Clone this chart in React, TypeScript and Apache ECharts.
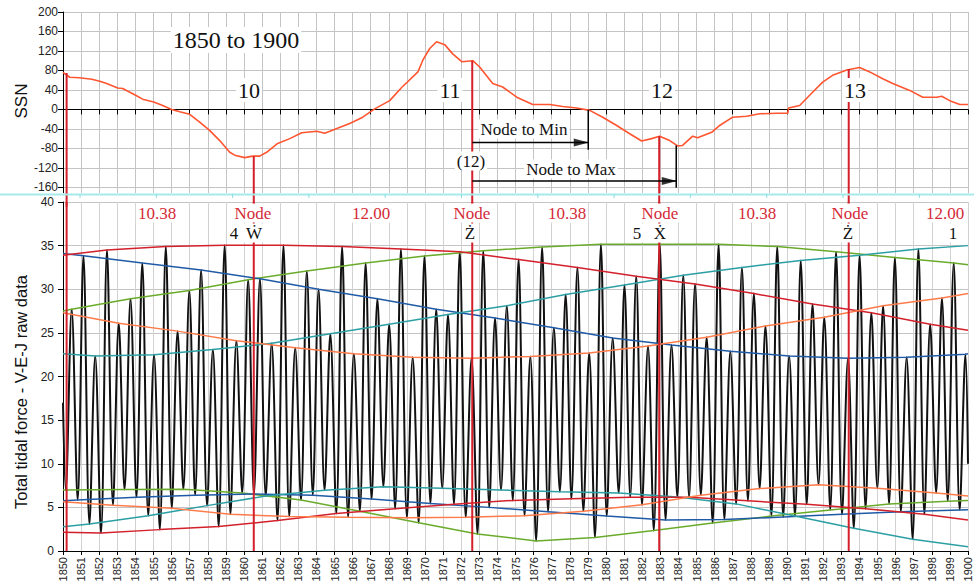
import React, { useEffect, useRef } from "react";
import * as echarts from "echarts";

// ---------- Top panel: SSN (detrended) ----------
const ssn: [number, number][] = [
  [1850.0, 76], [1850.37, 66], [1850.92, 65], [1851.59, 62], [1852.03, 58], [1852.41, 53],
  [1853.02, 44], [1853.3, 43], [1854.01, 29], [1854.4, 21], [1855.01, 15], [1855.51, 8],
  [1856.0, 0], [1856.45, -5], [1857.0, -10], [1857.55, -26], [1858.1, -43], [1858.66, -64],
  [1859.21, -88], [1859.49, -94], [1860.04, -99], [1860.48, -96], [1860.87, -96], [1861.25, -88],
  [1861.86, -70], [1862.53, -60], [1863.19, -48], [1864.02, -45], [1864.46, -49], [1864.74, -45],
  [1865.84, -29], [1866.56, -16], [1867.22, 1], [1868.05, 18], [1868.71, 45], [1869.61, 77],
  [1869.88, 101], [1870.26, 125], [1870.64, 139], [1871.09, 133], [1871.53, 114], [1872.03, 98],
  [1872.64, 100], [1873.02, 87], [1873.74, 53], [1874.29, 46], [1875.07, 25], [1875.95, 10],
  [1876.89, 10], [1877.61, 6], [1878.38, 3], [1879.1, -2], [1879.82, -16], [1880.59, -33],
  [1881.31, -50], [1881.97, -65], [1882.52, -60], [1882.96, -55], [1883.52, -64], [1883.96, -75],
  [1884.23, -74], [1884.79, -55], [1885.06, -58], [1885.84, -47], [1886.28, -33], [1887.0, -16],
  [1887.77, -14], [1888.49, -9], [1889.43, -8], [1890.04, -8], [1890.09, 3], [1890.7, 8],
  [1891.25, 29], [1891.97, 56], [1892.52, 70], [1893.3, 81], [1894.01, 86], [1894.57, 77],
  [1895.29, 63], [1895.84, 53], [1896.78, 39], [1897.5, 25], [1898.27, 25], [1898.55, 27],
  [1898.99, 18], [1899.55, 10], [1900.0, 10],
];

// Lunar node years and the SSN value where each node line starts
const nodeYears = [1850.2, 1860.54, 1872.61, 1882.94, 1893.41];
const nodeSsn = [75, -96, 100, -55, 83];

// Annotation arrows (year, SSN level)
const toMin = { from: 1872.61, to: 1879.02, level: -68, barTop: -1, barBottom: -83 };
const toMax = { from: 1872.61, to: 1883.88, level: -147, barTop: -74, barBottom: -161 };

// ---------- Lower panel: tidal force peaks (five families) ----------
const greenTop: [number, number][] = [
  [1850.48, 27.7], [1853.73, 28.9], [1856.98, 29.85], [1860.23, 31.1], [1863.47, 32.1], [1866.72, 33.0],
  [1869.97, 33.8], [1873.22, 34.4], [1876.47, 34.85], [1879.72, 35.15], [1882.97, 35.15], [1886.22, 35.15],
  [1889.46, 34.9], [1892.71, 34.3], [1895.96, 33.65], [1899.21, 33.0],
];
const blueTop: [number, number][] = [
  [1851.13, 33.85], [1854.38, 33.0], [1857.63, 32.2], [1860.88, 31.2], [1864.12, 30.0], [1867.37, 28.9],
  [1870.62, 27.7], [1873.87, 26.7], [1877.12, 25.6], [1880.37, 24.4], [1883.62, 23.6], [1886.87, 22.9],
  [1890.12, 22.35], [1893.37, 22.1], [1896.61, 22.2], [1899.86, 22.55],
];
const tealTop: [number, number][] = [
  [1851.78, 22.35], [1855.03, 22.5], [1858.28, 23.1], [1861.53, 23.8], [1864.77, 24.9], [1868.02, 26.0],
  [1871.27, 27.1], [1874.52, 28.1], [1877.77, 29.4], [1881.02, 30.5], [1884.27, 31.6], [1887.51, 32.5],
  [1890.76, 33.3], [1894.01, 33.9], [1897.26, 34.6],
];
const redTop: [number, number][] = [
  [1852.43, 34.5], [1855.68, 34.9], [1858.93, 35.05], [1862.18, 35.05], [1865.42, 34.9], [1868.67, 34.6],
  [1871.92, 34.3], [1875.17, 33.4], [1878.42, 32.5], [1881.67, 31.5], [1884.92, 30.6], [1888.17, 29.5],
  [1891.41, 28.3], [1894.66, 27.3], [1897.91, 26.0],
];
const orangeTop: [number, number][] = [
  [1853.08, 26.1], [1856.33, 25.2], [1859.58, 24.1], [1862.83, 23.3], [1866.07, 22.6], [1869.32, 22.2],
  [1872.57, 22.1], [1875.82, 22.3], [1879.07, 22.7], [1882.32, 23.5], [1885.56, 24.5], [1888.81, 25.8],
  [1892.06, 26.8], [1895.31, 28.1], [1898.56, 29.0],
];

// troughs (five families)
const greenBot: [number, number][] = [
  [1850.15, 7.0], [1853.4, 7.05], [1856.65, 7.07], [1859.9, 6.65], [1863.15, 5.85], [1866.4, 4.55],
  [1869.65, 3.25], [1872.9, 1.95], [1876.14, 1.15], [1879.39, 1.55], [1882.64, 2.35], [1885.89, 3.2],
  [1889.14, 4.0], [1892.39, 4.7], [1895.64, 5.4], [1898.88, 5.7],
];
const blueBot: [number, number][] = [
  [1850.81, 5.85], [1854.06, 6.15], [1857.3, 6.4], [1860.55, 6.53], [1863.8, 6.4], [1867.05, 5.95],
  [1870.3, 5.45], [1873.55, 5.0], [1876.8, 4.5], [1880.04, 4.0], [1883.29, 3.55], [1886.54, 3.6],
  [1889.79, 3.9], [1893.04, 4.2], [1896.29, 4.5], [1899.54, 4.7],
];
const tealBot: [number, number][] = [
  [1851.46, 3.1], [1854.71, 4.05], [1857.96, 5.2], [1861.2, 6.3], [1864.45, 6.95], [1867.7, 7.37],
  [1870.95, 7.2], [1874.2, 7.0], [1877.45, 6.8], [1880.7, 6.65], [1883.94, 6.2], [1887.19, 5.4],
  [1890.44, 4.0], [1893.69, 2.6], [1896.94, 1.35],
];
const redBot: [number, number][] = [
  [1852.1, 2.05], [1855.35, 2.45], [1858.6, 2.8], [1861.85, 3.5], [1865.1, 4.3], [1868.35, 4.85],
  [1871.6, 5.35], [1874.85, 5.8], [1878.09, 6.0], [1881.34, 6.17], [1884.59, 6.15], [1887.84, 5.75],
  [1891.09, 5.35], [1894.34, 4.85], [1897.59, 4.2],
];
const orangeBot: [number, number][] = [
  [1852.76, 5.25], [1856.01, 4.89], [1859.25, 4.2], [1862.5, 3.95], [1865.75, 3.87], [1869.0, 3.82],
  [1872.25, 3.86], [1875.5, 4.05], [1878.75, 4.55], [1881.99, 5.3], [1885.24, 6.4], [1888.49, 7.15],
  [1891.74, 7.6], [1894.99, 7.2], [1898.24, 6.65],
];

// envelope values at the chart edges (1850, 1900)
const greenTopEdge = [27.5, 32.8];
const blueTopEdge = [34.1, 22.6];
const tealTopEdge = [22.6, 35.0];
const redTopEdge = [33.9, 25.3];
const orangeTopEdge = [27.3, 29.5];
const greenBotEdge = [7.0, 5.8];
const blueBotEdge = [5.77, 4.72];
const tealBotEdge = [2.79, 0.5];
const redBotEdge = [2.14, 3.55];
const orangeBotEdge = [5.65, 6.3];

// tidal curve at the chart edges
const tidalStart: [number, number] = [1850, 17];
const tidalEnd: [number, number] = [1900, 10];

const RED = "#d3202b";
const BLUE = "#1f5aa6";
const GREEN = "#6aab2b";
const ORANGE = "#ff7b4a";
const TEAL = "#2b9fa3";
const SSN_COLOR = "#ff5530";
const TEXT_RED = "#d42a38";

const SERIF = "'Liberation Serif', 'Times New Roman', serif";
const SANS = "'Liberation Sans', Arial, sans-serif";

export default function App() {
  const ref = useRef<HTMLDivElement>(null);

  useEffect(() => {
    if (!ref.current) return;
    const chart = echarts.init(ref.current, undefined, { renderer: "svg" });

    const env = (edge: number[], pts: [number, number][]) => [[1850, edge[0]], ...pts, [1900, edge[1]]];
    const tidal = [
      tidalStart,
      ...[...greenTop, ...blueTop, ...tealTop, ...redTop, ...orangeTop,
        ...greenBot, ...blueBot, ...tealBot, ...redBot, ...orangeBot].sort((a, b) => a[0] - b[0]),
      tidalEnd,
    ];

    const lowerLine = (data: any[], color: string, width = 1.5, z = 5) => ({
      type: "line",
      xAxisIndex: 1,
      yAxisIndex: 1,
      data,
      symbol: "none",
      z,
      lineStyle: { color, width },
      silent: true,
    });
    const topLine = (data: any[], color: string, width = 1.5, z = 6) => ({
      type: "line",
      xAxisIndex: 0,
      yAxisIndex: 0,
      data,
      symbol: "none",
      z,
      lineStyle: { color, width },
      silent: true,
    });

    const series: any[] = [
      topLine(ssn, SSN_COLOR, 1.6, 3),
      {
        ...lowerLine(tidal, "#111", 2, 4),
        smooth: 0.35,
      },
      lowerLine(env(greenTopEdge, greenTop), GREEN),
      lowerLine(env(blueTopEdge, blueTop), BLUE),
      lowerLine(env(tealTopEdge, tealTop), TEAL),
      lowerLine(env(redTopEdge, redTop), RED),
      lowerLine(env(orangeTopEdge, orangeTop), ORANGE),
      lowerLine(env(greenBotEdge, greenBot), GREEN),
      lowerLine(env(blueBotEdge, blueBot), BLUE),
      lowerLine(env(tealBotEdge, tealBot), TEAL),
      lowerLine(env(redBotEdge, redBot), RED),
      lowerLine(env(orangeBotEdge, orangeBot), ORANGE),
    ];

    nodeYears.forEach((yr, i) => {
      series.push(topLine([[yr, nodeSsn[i]], [yr, -200]], RED, 2, 7));
      series.push(lowerLine([[yr, 0], [yr, 40]], RED, 2, 7));
    });

    [toMin, toMax].forEach((a) => {
      series.push(topLine([[a.from, a.level], [a.to, a.level]], "#000", 1.5, 8));
      series.push(topLine([[a.to, a.barTop], [a.to, a.barBottom]], "#000", 1.5, 8));
    });
    series.push({
      type: "scatter",
      xAxisIndex: 0,
      yAxisIndex: 0,
      data: [[toMin.to, toMin.level], [toMax.to, toMax.level]],
      symbol: "path://M0,0L15,4L0,8Z",
      symbolSize: [15, 8],
      symbolOffset: [-7, 0],
      itemStyle: { color: "#000" },
      z: 9,
      silent: true,
    });

    const text = (x: number, y: number, t: string, size: number, color = "#111", bg = true, font = SERIF) => ({
      type: "text",
      x,
      y,
      z: 20,
      style: {
        text: t,
        fontFamily: font,
        fontSize: size,
        fill: color,
        align: "center",
        verticalAlign: "middle",
        backgroundColor: bg ? "#fff" : undefined,
        padding: bg ? [1, 2] : 0,
      },
    });

    const graphics: any[] = [
      { type: "rect", shape: { x: 0, y: 193, width: 974, height: 22 }, style: { fill: "#fff" }, z: 1, silent: true },
      { type: "line", shape: { x1: 0, y1: 194.5, x2: 974, y2: 194.5 }, style: { stroke: "#a6eaea", lineWidth: 2 }, z: 8 },
    ];
    for (let k = 0; k < 12; k++) {
      const x = 80 + k * 76.3;
      graphics.push({ type: "line", shape: { x1: x, y1: 194, x2: x, y2: 198 }, style: { stroke: "#8fdede", lineWidth: 1 }, z: 8 });
    }
    graphics.push(
      text(236, 40, "1850 to 1900", 24, "#111", true),
      text(249, 90, "10", 22),
      text(450, 90, "11", 22),
      text(662, 90, "12", 22),
      text(855, 90, "13", 22),
      text(524, 129, "Node to Min", 17),
      text(471, 161, "(12)", 17),
      text(571, 169, "Node to Max", 17),
      text(157, 213, "10.38", 17, TEXT_RED),
      text(253, 213, "Node", 17, TEXT_RED),
      text(371, 213, "12.00", 17, TEXT_RED),
      text(472, 213, "Node", 17, TEXT_RED),
      text(567, 213, "10.38", 17, TEXT_RED),
      text(660, 213, "Node", 17, TEXT_RED),
      text(757, 213, "10.38", 17, TEXT_RED),
      text(850, 213, "Node", 17, TEXT_RED),
      text(945, 213, "12.00", 17, TEXT_RED),
      text(234, 233, "4", 17),
      text(254, 233, "Ẇ", 17),
      text(470, 233, "Ż", 17),
      text(637, 233, "5", 17),
      text(660, 233, "Ẋ", 17),
      text(848, 233, "Ż", 17),
      text(953, 233, "1", 17),
      {
        type: "text",
        x: 21,
        y: 101,
        rotation: Math.PI / 2,
        z: 20,
        style: { text: "SSN", fontFamily: SANS, fontSize: 17, fill: "#111", align: "center", verticalAlign: "middle" },
      },
      {
        type: "text",
        x: 21,
        y: 392,
        rotation: Math.PI / 2,
        z: 20,
        style: {
          text: "Total tidal force - V-E-J raw data",
          fontFamily: SANS,
          fontSize: 16.5,
          fill: "#111",
          align: "center",
          verticalAlign: "middle",
        },
      }
    );

    const axisBase = {
      type: "value",
      axisLine: { show: true, lineStyle: { color: "#000", width: 1 } },
      axisTick: { show: true, length: 5, lineStyle: { color: "#000" } },
    };

    chart.setOption({
      animation: false,
      backgroundColor: "#fff",
      grid: [
        { left: 63, top: 12, width: 905, height: 194.8 },
        { left: 63, top: 202, width: 905, height: 349 },
      ],
      xAxis: [
        {
          ...axisBase,
          gridIndex: 0,
          min: 1850,
          max: 1900,
          interval: 1,
          axisLine: { show: true, onZero: true, lineStyle: { color: "#000", width: 1 } },
          axisLabel: { show: false },
          splitLine: { show: true, lineStyle: { color: "#c4c4c4" } },
          z: 0,
        },
        {
          ...axisBase,
          gridIndex: 1,
          min: 1850,
          max: 1900,
          interval: 1,
          axisTick: { show: true, length: 4, lineStyle: { color: "#000" } },
          axisLabel: {
            rotate: 90,
            fontSize: 11,
            margin: 6,
            color: "#222",
            fontFamily: SANS,
            formatter: (v: number) => String(Math.round(v)),
          },
          splitLine: { show: true, lineStyle: { color: "#d2d2d2" } },
          z: 3,
        },
      ],
      yAxis: [
        {
          ...axisBase,
          gridIndex: 0,
          min: -200,
          max: 200,
          interval: 40,
          axisLabel: {
            fontSize: 12,
            margin: 5,
            color: "#222",
            fontFamily: SANS,
            showMinLabel: false,
            formatter: (v: number) => String(v),
          },
          splitLine: { show: true, lineStyle: { color: "#c4c4c4" } },
          z: 0,
        },
        {
          ...axisBase,
          gridIndex: 1,
          min: 0,
          max: 40,
          interval: 5,
          axisLabel: { fontSize: 12, margin: 9, color: "#222", fontFamily: SANS },
          splitLine: { show: true, lineStyle: { color: "#c4c4c4" } },
          z: 3,
        },
      ],
      series,
      graphic: { elements: graphics },
    });

    return () => chart.dispose();
  }, []);

  return (
    <div
      ref={ref}
      style={{ position: "fixed", left: 0, top: 0, width: 974, height: 587, background: "#fff" }}
    />
  );
}
